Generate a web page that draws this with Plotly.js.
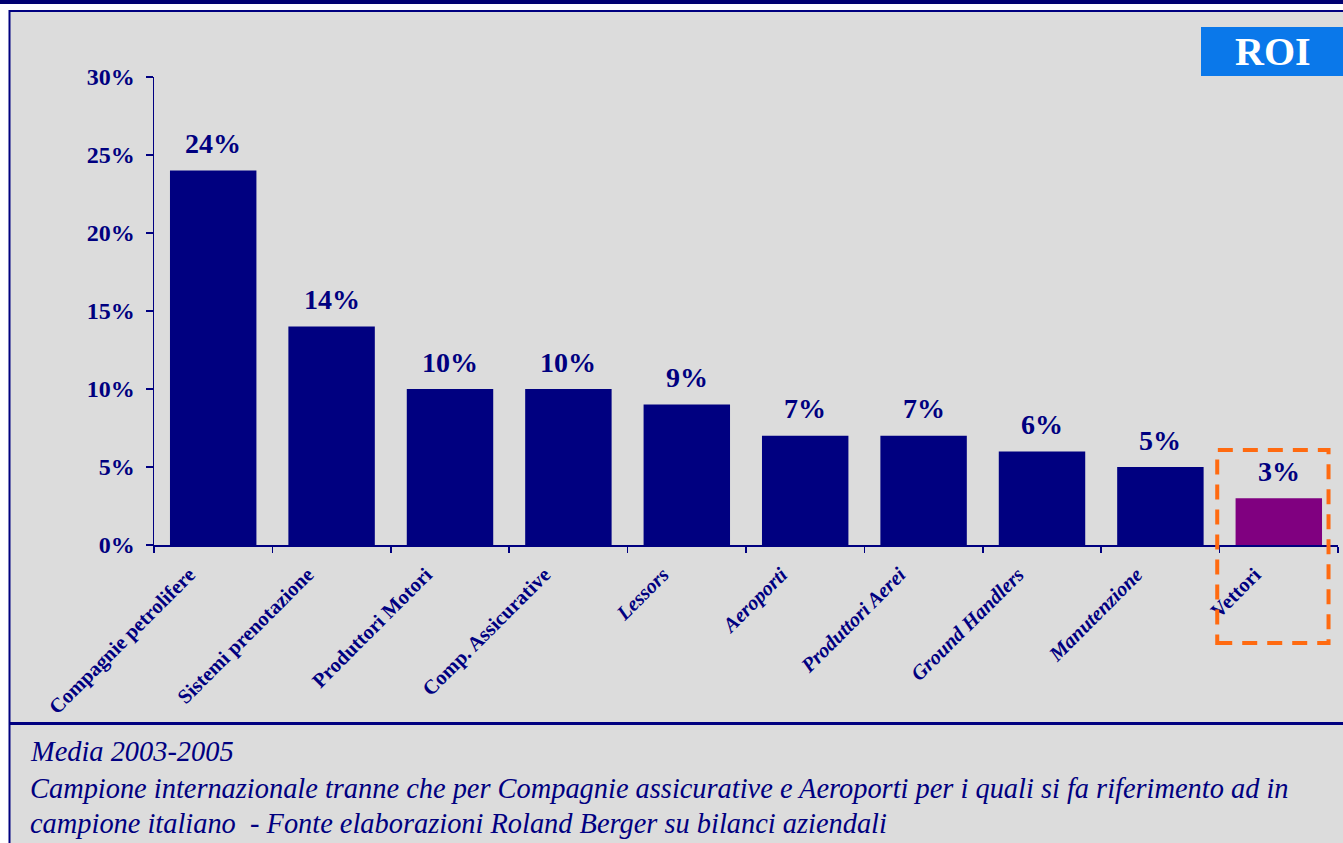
<!DOCTYPE html>
<html>
<head>
<meta charset="utf-8">
<script src="https://cdn.plot.ly/plotly-3.0.1.min.js"></script>
<style>
html,body{margin:0;padding:0;background:#ffffff;}
#chart{width:1343px;height:843px;}
</style>
</head>
<body>
<div id="chart"></div>
<script>
// ---- data ----
const categories = ["Compagnie petrolifere","Sistemi prenotazione","Produttori Motori","Comp. Assicurative","Lessors","Aeroporti","Produttori Aerei","Ground Handlers","Manutenzione","Vettori"];
const roiValues = [24, 14, 10, 10, 9, 7, 7, 6, 5, 3];
const valueLabels = ["24%","14%","10%","10%","9%","7%","7%","6%","5%","3%"];
const yTickValues = [0, 5, 10, 15, 20, 25, 30];
const yTickLabels = ["0%","5%","10%","15%","20%","25%","30%"];
const highlighted = "Vettori";
const badgeText = "ROI";
const footnoteLines = [
  "Media 2003-2005",
  "Campione internazionale tranne che per Compagnie assicurative e Aeroporti per i quali si fa riferimento ad in",
  "campione italiano  - Fonte elaborazioni Roland Berger su bilanci aziendali"
];

// ---- layout helpers ----
const W = 1343, H = 843;
const M = {l:154, r:5, t:77, b:298};
const PW = W - M.l - M.r, PH = H - M.t - M.b;
const px = x => (x - M.l) / PW;
const py = y => (H - M.b - y) / PH;

const NAVY = "#000080";
const FONT = '"Liberation Serif", "Times New Roman", serif';
const italicIdx = new Set([4,5,6,7,8]);

const barColors = categories.map(c => c === highlighted ? "#800080" : NAVY);
const tickText = categories.map((c,i) => italicIdx.has(i) ? "<i>" + c + "</i>" : c);

const trace = {
  type: "bar",
  x: categories,
  y: roiValues,
  marker: {color: barColors, line: {width: 0}},
  hoverinfo: "skip",
  showlegend: false
};

const annotations = categories.map((c,i) => ({
  x: c, y: roiValues[i], xref: "x", yref: "y",
  text: valueLabels[i], showarrow: false,
  yanchor: "middle", yshift: 27,
  font: {family: FONT, size: 28, color: NAVY, weight: "bold"}
}));

// ROI badge text
annotations.push({
  xref: "paper", yref: "paper", x: px(1273), y: py(52),
  text: "<b>" + badgeText + "</b>", showarrow: false,
  xanchor: "center", yanchor: "middle",
  font: {family: FONT, size: 40, color: "#ffffff"}
});

// footnote lines
const footY = [751, 788, 823];
footnoteLines.forEach((t,i) => annotations.push({
  xref: "paper", yref: "paper", x: px(28), y: py(footY[i]),
  text: t, showarrow: false, xanchor: "left", yanchor: "middle",
  font: {family: FONT, size: 28.4, color: NAVY, style: "italic"}
}));

const hiIdx = categories.indexOf(highlighted);

const shapes = [
  {type:"rect", xref:"paper", yref:"paper", x0:px(-5), x1:px(W+5), y0:py(10), y1:py(-5), fillcolor:"#ffffff", line:{width:0}, layer:"below"},
  {type:"rect", xref:"paper", yref:"paper", x0:px(-5), x1:px(9), y0:py(H+5), y1:py(-5), fillcolor:"#ffffff", line:{width:0}, layer:"below"},
  {type:"rect", xref:"paper", yref:"paper", x0:px(-5), x1:px(W+5), y0:py(4), y1:py(-5), fillcolor:"#000070", line:{width:0}, layer:"below"},
  {type:"line", xref:"paper", yref:"paper", x0:px(9), x1:px(W+5), y0:py(11), y1:py(11), line:{color:"#000080", width:2}},
  {type:"line", xref:"paper", yref:"paper", x0:px(9.5), x1:px(9.5), y0:py(10), y1:py(H+5), line:{color:"#000080", width:2}},
  {type:"line", xref:"paper", yref:"paper", x0:px(9), x1:px(W+5), y0:py(723.5), y1:py(723.5), line:{color:"#000080", width:3}},
  {type:"rect", xref:"paper", yref:"paper", x0:px(1201), x1:px(W+5), y0:py(76), y1:py(27), fillcolor:"#0A78EA", line:{width:0}},
  {type:"rect", xref:"x", yref:"paper", x0:hiIdx-0.52, x1:hiIdx+0.42, y0:py(643), y1:py(450),
   line:{color:"#FF6A10", width:4, dash:"15px,10px"}, fillcolor:"rgba(0,0,0,0)"}
];

const layout = {
  width: W, height: H,
  margin: M,
  paper_bgcolor: "#DCDCDC",
  plot_bgcolor: "#DCDCDC",
  bargap: 0.27,
  font: {family: FONT, color: NAVY},
  xaxis: {
    type: "category",
    range: [-0.5, categories.length - 0.5],
    tickvals: categories, ticktext: tickText,
    tickangle: -45,
    tickson: "boundaries",
    ticks: "outside", ticklen: 6, tickwidth: 1.5, tickcolor: NAVY,
    showline: true, linecolor: NAVY, linewidth: 1.5,
    showgrid: false, zeroline: false,
    ticklabelshift: -24,
    ticklabelstandoff: 8,
    tickfont: {family: FONT, size: 20.5, color: NAVY, weight: "bold"},
    fixedrange: true
  },
  yaxis: {
    range: [0, 30],
    tickvals: yTickValues, ticktext: yTickLabels,
    ticks: "outside", ticklen: 7, tickwidth: 1.5, tickcolor: NAVY,
    showline: true, linecolor: NAVY, linewidth: 1.5,
    showgrid: false, zeroline: false,
    ticklabelstandoff: 6,
    tickfont: {family: FONT, size: 24, color: NAVY, weight: "bold"},
    fixedrange: true
  },
  annotations: annotations,
  shapes: shapes,
  showlegend: false
};

Plotly.newPlot("chart", [trace], layout, {displayModeBar: false, staticPlot: true});
</script>
</body>
</html>
